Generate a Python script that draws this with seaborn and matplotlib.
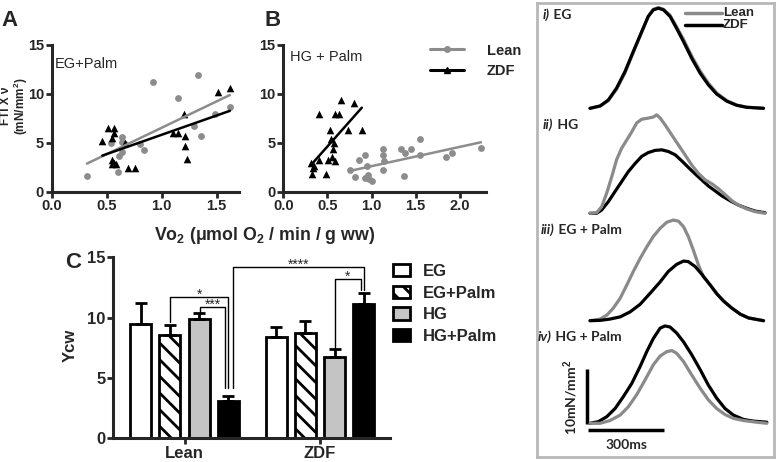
import numpy as np
import pandas as pd
import seaborn as sns
import matplotlib.pyplot as plt
from matplotlib.lines import Line2D
from matplotlib.patches import Patch

sns.set_style('ticks')
plt.rcParams['font.family'] = ['Liberation Sans', 'DejaVu Sans']
plt.rcParams['font.weight'] = 'bold'
plt.rcParams['mathtext.fontset'] = 'custom'
plt.rcParams['mathtext.rm'] = 'Liberation Sans:bold'
plt.rcParams['mathtext.it'] = 'Liberation Sans:bold'
plt.rcParams['hatch.linewidth'] = 2.0

W, H = 777, 462
GRAY = '#8c8c8c'
TRACE_GRAY = '#8a8a8a'
TRACE_FONT = ['Lato', 'DejaVu Sans']

# --- panel A: EG+Palm, FTI x v vs Vo2
a_lean_vo2 = [0.32, 0.54, 0.64, 0.64, 0.61, 0.60, 0.64, 0.67, 0.80, 0.84, 0.92, 1.15, 1.33, 1.29, 1.36, 1.48, 1.62]
a_lean_fti = [1.6, 5.0, 5.6, 5.1, 3.6, 2.0, 4.1, 4.9, 4.9, 4.3, 11.2, 9.6, 11.9, 6.7, 5.7, 7.9, 8.7]
a_zdf_vo2 = [0.46, 0.51, 0.57, 0.57, 0.55, 0.55, 0.57, 0.58, 0.55, 0.67, 0.69, 0.76, 1.10, 1.15, 1.20, 1.21, 1.21, 1.23, 1.51, 1.62]
a_zdf_fti = [5.2, 6.5, 6.5, 6.0, 5.5, 3.2, 2.9, 2.8, 2.8, 5.0, 2.4, 2.4, 6.0, 6.0, 7.9, 5.7, 4.7, 3.3, 10.2, 10.6]

# --- panel B: HG + Palm
b_lean_vo2 = [0.76, 0.81, 0.86, 0.93, 0.95, 0.93, 0.96, 0.97, 1.00, 1.13, 1.13, 1.14, 1.13, 1.33, 1.38, 1.37, 1.45, 1.55, 1.55, 1.84, 1.91, 2.24]
b_lean_fti = [2.2, 1.5, 3.2, 3.8, 2.6, 1.4, 1.7, 1.3, 1.1, 4.4, 3.8, 3.1, 2.2, 4.4, 4.0, 1.6, 4.4, 5.4, 3.8, 3.5, 4.0, 4.5]
b_zdf_vo2 = [0.31, 0.34, 0.35, 0.33, 0.41, 0.41, 0.48, 0.51, 0.53, 0.54, 0.55, 0.56, 0.58, 0.59, 0.59, 0.63, 0.65, 0.73, 0.80, 0.89]
b_zdf_fti = [2.96, 2.4, 2.65, 1.8, 7.9, 3.2, 1.8, 3.2, 6.3, 5.4, 3.5, 4.35, 5.0, 3.1, 7.9, 7.9, 9.35, 6.3, 9.1, 6.3]

# --- panel C: Ycw bars
strains = ['Lean', 'ZDF']
conditions = ['EG', 'EG+Palm', 'HG', 'HG+Palm']
ycw_lean = [9.45, 8.6, 9.85, 3.1]
ycw_zdf = [8.4, 8.7, 6.7, 11.1]
sem_lean = [1.75, 0.8, 0.5, 0.4]
sem_zdf = [0.85, 1.05, 0.7, 0.95]
bar_colors = ['white', 'white', '#c4c4c4', 'black']

# --- twitch traces (ms, mN/mm2)
t_eg = [0, 40, 72, 105, 138, 171, 204, 230, 250, 270, 290, 316, 342, 369, 402, 435, 467, 500, 540, 579, 619, 685]
f_eg_lean = [0, 0.4, 1.4, 3.5, 6.5, 10.2, 13.9, 16.8, 18.1, 18.4, 18.1, 17.0, 14.9, 12.6, 9.5, 6.8, 4.6, 2.8, 1.4, 0.6, 0.2, 0]
f_eg_zdf = [0, 0.43, 1.5, 3.7, 6.7, 10.4, 14.0, 16.8, 18.0, 18.3, 18.0, 16.8, 14.6, 12.2, 9.1, 6.4, 4.3, 2.6, 1.3, 0.55, 0.18, 0]

t_hg_lean = [0, 26, 46, 66, 86, 105, 125, 145, 165, 184, 204, 230, 250, 263, 277, 296, 323, 349, 375, 402,
             428, 455, 481, 507, 534, 560, 586, 619, 652, 691]
f_hg_lean = [0, 0.1, 1.2, 3.7, 6.7, 9.8, 11.9, 13.4, 14.9, 16.5, 17.2, 17.4, 17.6, 18.0, 17.4, 16.2, 14.3, 12.5, 10.7, 8.8,
             7.3, 6.1, 5.4, 4.5, 3.4, 2.3, 1.5, 0.8, 0.3, 0]
t_hg_zdf = [0, 26, 46, 72, 99, 125, 151, 178, 204, 230, 257, 283, 309, 336, 362, 388, 415, 441, 467, 494,
            520, 553, 586, 619, 652, 691]
f_hg_zdf = [0, 0, 0.6, 2.1, 4.0, 5.8, 7.6, 9.1, 10.4, 11.1, 11.5, 11.6, 11.3, 10.7, 9.6, 8.4, 7.2, 6.1, 5.0, 4.1,
            3.2, 2.3, 1.5, 0.9, 0.4, 0.1]

t_egp_lean = [0, 40, 66, 92, 119, 145, 171, 198, 224, 250, 277, 303, 329, 349, 369, 388, 408, 428, 448, 475,
              501, 527, 560, 593, 626, 685]
f_egp_lean = [0, 0.3, 1.0, 2.3, 4.1, 6.5, 9.0, 11.4, 13.5, 15.4, 16.9, 18.0, 18.4, 18.2, 17.2, 15.4, 12.9, 10.2, 8.0, 6.5,
              4.9, 3.6, 2.3, 1.2, 0.5, 0]
t_egp_zdf = [0, 40, 79, 119, 158, 198, 237, 277, 309, 342, 369, 388, 415, 441, 475, 501, 527, 560, 593, 626, 685]
f_egp_zdf = [0, 0.06, 0.3, 0.7, 1.6, 3.0, 5.0, 7.1, 9.0, 10.3, 10.9, 10.8, 9.9, 8.5, 6.5, 4.9, 3.6, 2.3, 1.2, 0.5, 0]

t_hgp_lean = [0, 40, 79, 119, 151, 184, 217, 250, 277, 303, 323, 342, 369, 402, 435, 467, 500, 533, 566, 606, 658, 698]
f_hgp_lean = [0, 0, 0.5, 1.5, 3.0, 5.2, 7.9, 10.7, 12.3, 13.1, 13.3, 12.8, 11.3, 8.8, 6.4, 4.3, 2.7, 1.6, 0.9, 0.5, 0.2, 0]
t_hgp_zdf = [0, 33, 66, 99, 132, 165, 198, 224, 250, 277, 296, 316, 342, 369, 402, 435, 467, 500, 533, 566, 606, 645, 698]
f_hgp_zdf = [0, 0.3, 1.2, 2.7, 4.9, 7.3, 10.4, 13.1, 15.5, 17.4, 17.8, 17.6, 16.5, 14.9, 12.5, 9.8, 7.0, 4.6, 2.7, 1.5,
             0.7, 0.4, 0.2]

trace_titles = ['i)', 'ii)', 'iii)', 'iv)']
trace_names = [' EG', ' HG', ' EG + Palm', ' HG + Palm']


def px_rect(l, t, r, b):
    return [l / W, 1 - b / H, (r - l) / W, (b - t) / H]


def fig_xy(x, y):
    return x / W, 1 - y / H


fig = plt.figure(figsize=(W / 100, H / 100), dpi=100)


def style_prism(ax, size):
    sns.despine(ax=ax)
    for s in ['left', 'bottom']:
        ax.spines[s].set_linewidth(2.2)
    ax.tick_params(width=2, length=4, labelsize=size, pad=1.5)


def scatter_panel(ax, lx, ly, zx, zy, xmax, xticks):
    sns.regplot(x=lx, y=ly, ax=ax, ci=None, color=GRAY, marker='o',
                scatter_kws=dict(s=24, linewidths=0, clip_on=False, alpha=1),
                line_kws=dict(lw=1.8))
    sns.regplot(x=zx, y=zy, ax=ax, ci=None, color='black', marker='^',
                scatter_kws=dict(s=30, linewidths=0, clip_on=False, alpha=1),
                line_kws=dict(lw=1.8))
    ax.set_xlim(0, xmax)
    ax.set_ylim(0, 15)
    ax.set_xticks(xticks)
    ax.set_xticklabels([f'{v:.1f}' for v in xticks])
    ax.set_yticks([0, 5, 10, 15])
    ax.set_xlabel('')
    ax.set_ylabel('')
    style_prism(ax, 10.5)


axA = fig.add_axes(px_rect(51.7, 45, 238.7, 191.7))
scatter_panel(axA, a_lean_vo2, a_lean_fti, a_zdf_vo2, a_zdf_fti, 1.7, [0, 0.5, 1.0, 1.5])
axB = fig.add_axes(px_rect(283.3, 45, 486.2, 191.7))
scatter_panel(axB, b_lean_vo2, b_lean_fti, b_zdf_vo2, b_zdf_fti, 2.3, [0, 0.5, 1.0, 1.5, 2.0])

leg_handles = [Line2D([], [], color=GRAY, lw=2.2, marker='o', ms=4),
               Line2D([], [], color='black', lw=2.2, marker='^', ms=5)]
axB.legend(leg_handles, ['Lean', 'ZDF'], loc='upper left', bbox_to_anchor=(0.723, 1.01),
           frameon=False, fontsize=10.5, handlelength=2.3, handletextpad=1.6,
           labelspacing=0.45, borderpad=0, borderaxespad=0)

fig.text(*fig_xy(1, 20), 'A', fontsize=16, ha='left', va='center')
fig.text(*fig_xy(265, 20), 'B', fontsize=16, ha='left', va='center')
fig.text(*fig_xy(65, 263), 'C', fontsize=16, ha='left', va='center')
fig.text(*fig_xy(55, 64), 'EG+Palm', fontsize=10.5, weight='normal', ha='left', va='center')
fig.text(*fig_xy(290, 57), 'HG + Palm', fontsize=10.5, weight='normal', ha='left', va='center')
fig.text(*fig_xy(15, 106), 'FTI X ν\n(mN/mm$^2$)', fontsize=8.5, rotation=90, ha='center', va='center',
         multialignment='center', linespacing=0.95)
fig.text(*fig_xy(265, 235), 'Vo$_2$ (μmol O$_2$ / min / g ww)', fontsize=12.8, ha='center', va='center')

# --- panel C
axC = fig.add_axes(px_rect(113, 257.3, 390, 438.3))
df = pd.DataFrame({'strain': np.repeat(strains, len(conditions)),
                   'cond': conditions * len(strains),
                   'ycw': ycw_lean + ycw_zdf,
                   'sem': sem_lean + sem_zdf})
palette = dict(zip(conditions, bar_colors))
sns.barplot(data=df, x='strain', y='ycw', hue='cond', hue_order=conditions, palette=palette,
            width=0.86, gap=0.28, errorbar=None, edgecolor='black', linewidth=2,
            saturation=1, legend=False, ax=axC)
bar_conts = list(axC.containers)
for p in bar_conts[1]:
    p.set_hatch('\\\\')

sems = [sem_lean, sem_zdf]
centers = {}
for i, cont in enumerate(bar_conts):
    xs, tops, errs = [], [], []
    for j, p in enumerate(cont.patches):
        x = p.get_x() + p.get_width() / 2
        centers[(j, i)] = x
        xs.append(x)
        tops.append(p.get_height())
        errs.append(sems[j][i])
    axC.errorbar(xs, tops, yerr=[np.zeros(len(errs)), errs], fmt='none', ecolor='black',
                 elinewidth=2, capsize=4, capthick=2, zorder=1)

axC.set_xlim(-0.528, 1.517)
axC.set_ylim(0, 15)
axC.set_yticks([0, 5, 10, 15])
axC.set_xlabel('')
axC.set_ylabel('')
style_prism(axC, 12)
fig.text(*fig_xy(70, 345), 'Ycw', fontsize=12, rotation=90, ha='center', va='center')

# significance brackets: (strain, cond, dx px, leg bottom), (...), top, label
px_unit = 1 / 135.5
brackets = [
    ((0, 1, 0, 9.67), (0, 3, 0, 4.14), 11.68, '*'),
    ((0, 2, 1, 10.36), (0, 3, -3, 4.14), 10.9, '***'),
    ((0, 3, 5, 4.14), (1, 3, 0, 12.3), 14.17, '****'),
    ((1, 2, 0, 7.46), (1, 3, -3, 12.3), 13.2, '*'),
]
for (s1, c1, d1, b1), (s2, c2, d2, b2), top, lab in brackets:
    x1 = centers[(s1, c1)] + d1 * px_unit
    x2 = centers[(s2, c2)] + d2 * px_unit
    axC.plot([x1, x1, x2, x2], [b1, top, top, b2], color='black', lw=1, clip_on=False)
    axC.text((x1 + x2) / 2, top - 0.15, lab, ha='center', va='baseline', fontsize=10, weight='normal')

c_handles = [Patch(facecolor=c, edgecolor='black', linewidth=2, hatch='\\\\' if k == 1 else None)
             for k, c in enumerate(bar_colors)]
fig.legend(c_handles, conditions, loc='upper left', bbox_to_anchor=fig_xy(393, 264),
           frameon=False, fontsize=12, handlelength=1.0, handleheight=0.75, handletextpad=0.8,
           labelspacing=0.4, borderpad=0, borderaxespad=0)

# --- twitch traces panel
MS_PER_PX = 300 / 76.0
PX_PER_F = 54.7 / 10
base_px = [108.3, 213.3, 320.7, 423.3]
offsets = [(423.3 - b) / PX_PER_F for b in base_px]

axT = fig.add_axes(px_rect(537, 3, 774, 457))
axT.set_xlim(-(590 - 537) * MS_PER_PX, (774 - 590) * MS_PER_PX)
axT.set_ylim(-(457 - 423.3) / PX_PER_F, (423.3 - 3) / PX_PER_F)
axT.set_xticks([])
axT.set_yticks([])
for s in axT.spines.values():
    s.set_visible(True)
    s.set_color('#b8b8b8')
    s.set_linewidth(2)

traces = [
    ((t_eg, f_eg_lean), (t_eg, f_eg_zdf), False),
    ((t_hg_lean, f_hg_lean), (t_hg_zdf, f_hg_zdf), True),
    ((t_egp_lean, f_egp_lean), (t_egp_zdf, f_egp_zdf), False),
    ((t_hgp_lean, f_hgp_lean), (t_hgp_zdf, f_hgp_zdf), True),
]
for k, ((tl, fl), (tz, fz), lean_top) in enumerate(traces):
    off = offsets[k]
    zl, zz = (3, 2) if lean_top else (2, 3)
    sns.lineplot(x=tl, y=np.array(fl) + off, ax=axT, color=TRACE_GRAY, lw=2.3, estimator=None,
                 solid_capstyle='round', solid_joinstyle='round', zorder=zl)
    sns.lineplot(x=tz, y=np.array(fz) + off, ax=axT, color='black', lw=2.3, estimator=None,
                 solid_capstyle='round', solid_joinstyle='round', zorder=zz)

label_pos = [(543, 15), (543, 125), (541, 230), (538, 337)]
for (lx, ly), tt, nm in zip(label_pos, trace_titles, trace_names):
    t1 = fig.text(*fig_xy(lx, ly), tt, family=TRACE_FONT, style='italic', fontsize=10,
                  ha='left', va='center')
    axT.annotate(nm, xy=(1, 0.5), xycoords=t1, family=TRACE_FONT, fontsize=10,
                 ha='left', va='center')

# scale bars
axT.plot([-13, -13], [-0.1, 10], color='black', lw=2.5, solid_capstyle='butt')
axT.plot([-7, 293], [-1.2, -1.2], color='black', lw=2.5, solid_capstyle='butt')
fig.text(*fig_xy(571, 397), '10mN/mm$^2$', family=TRACE_FONT, fontsize=10, rotation=90,
         ha='center', va='center')
fig.text(*fig_xy(627, 445), '300ms', family=TRACE_FONT, fontsize=10, ha='center', va='center')

# trace legend
for yy, col, lab in [(12.8, TRACE_GRAY, 'Lean'), (24.8, 'black', 'ZDF')]:
    fig.add_artist(Line2D([685 / W, 722 / W], [1 - yy / H, 1 - yy / H], color=col, lw=2.5))
    fig.text(*fig_xy(723, yy), lab, fontsize=9.5, ha='left', va='center')

fig.savefig('out.png', dpi=100)
